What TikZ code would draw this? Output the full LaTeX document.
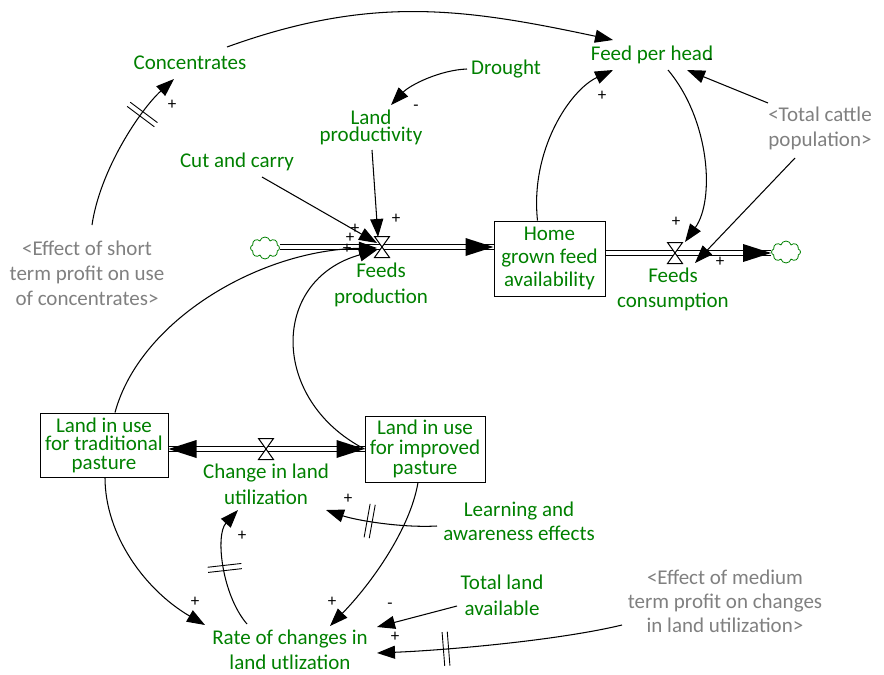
\documentclass[tikz,border=0pt]{standalone}
\usepackage{fontspec}
\setmainfont{Carlito}
\usetikzlibrary{arrows.meta,calc,decorations.markings,shapes.symbols}
\definecolor{vgreen}{RGB}{0,128,0}
\definecolor{vgray}{RGB}{128,128,128}
\begin{document}
\begin{tikzpicture}[x=1pt,y=-1pt,
  lab/.style={text=vgreen,font=\fontsize{21}{25}\selectfont,align=center,inner sep=1pt},
  glab/.style={lab,text=vgray},
  stock/.style={draw,line width=1pt,text=vgreen,align=center,inner sep=0pt},
  link/.style={line width=1.05pt,-{Triangle[length=18pt,width=13pt]}},
  pipe/.style={double,double distance=3.8pt,line width=1.1pt},
  sgn/.style={font=\fontsize{17}{17}\selectfont,inner sep=0pt},
  delay/.style={postaction={decorate},decoration={markings,mark=at position #1 with {\draw[-,line width=0.9pt] (-2.6,-17)--(-2.6,17) (2.6,-17)--(2.6,17);}}},
  cloudnode/.style={cloud,cloud puffs=8,draw=vgreen,line width=0.8pt,minimum width=29pt,minimum height=22pt,inner sep=0pt},
  valve/.pic={\draw[fill=white,line width=1pt] (-7.5,-10.5) -- (7.5,-10.5) -- (-7.5,10.5) -- (7.5,10.5) -- cycle;}
]
\useasboundingbox (0,0) rectangle (884,675);

% variables
\node[lab] (conc) at (190,63) {Concentrates};
\node[lab] (fph) at (652,55) {Feed per head};
\node[lab] (drought) at (506,69) {Drought};
\node[lab,font=\fontsize{21}{17}\selectfont] (lp) at (371,127) {Land\\productivity};
\node[lab] (cc) at (237,162) {Cut and carry};
\node[glab] (tcp) at (820,128) {<Total cattle\\population>};
\node[glab] (effS) at (87,273) {<Effect of short\\term profit on use\\of concentrates>};
\node[lab,font=\fontsize{21}{24}\selectfont] (learn) at (519,521) {Learning and\\awareness effects};
\node[lab,font=\fontsize{21}{26}\selectfont] (tland) at (502,595) {Total land\\available};
\node[glab,font=\fontsize{21}{24}\selectfont] (effM) at (725,601) {<Effect of medium\\term profit on changes\\in land utilization>};
\node[lab] (rate) at (290,650) {Rate of changes in\\land utlization};

% stocks
\node[stock,minimum width=111pt,minimum height=75pt,font=\fontsize{21}{23}\selectfont] (home) at (549.5,258.5) {Home\\grown feed\\availability};
\node[stock,minimum width=128pt,minimum height=64pt,font=\fontsize{21}{18.5}\selectfont] (trad) at (104,445) {Land in use\\for traditional\\pasture};
\node[stock,minimum width=120pt,minimum height=66pt,font=\fontsize{21}{20}\selectfont] (imp) at (425,449) {Land in use\\for improved\\pasture};

% clouds
\node[cloudnode] (cloudL) at (265,248) {};
\node[cloudnode] (cloudR) at (786,252) {};

% valves
\coordinate (fp) at (382,247);
\coordinate (fc) at (675,253);
\coordinate (clu) at (266,449);
\node[lab,font=\fontsize{21}{26}\selectfont] (fpl) at (381,284.5) {Feeds\\production};
\node[lab] (fcl) at (673,289.5) {Feeds\\consumption};
\node[lab,font=\fontsize{21}{26}\selectfont] (clul) at (266,484) {Change in land\\utilization};

% pipes
\draw[pipe] (cloudL.east |- fp) -- (fp -| home.west);
\fill (fp -| home.west) -- ++(-28,-9) -- ++(0,18) -- cycle;
\draw[pipe] (home.east |- fc) -- (cloudR.west |- fc);
\fill (cloudR.west |- fc) -- ++(-28,-9) -- ++(0,18) -- cycle;
\draw[pipe] (trad.east |- clu) -- (imp.west |- clu);
\fill (trad.east |- clu) -- ++(28,-9) -- ++(0,18) -- cycle;
\fill (imp.west |- clu) -- ++(-28,-9) -- ++(0,18) -- cycle;
\pic at (fp) {valve};
\pic at (fc) {valve};
\pic at (clu) {valve};

% links
\draw[link,delay=0.72] ($(effS)+(5,-48)$) .. controls (100,170) and (140,110) .. ($(conc)+(-16,16)$);
\draw[link] ($(conc)+(37,-16)$) .. controls (371,-5) and (463,8) .. ($(fph)+(-39,-15)$);
\draw[link] ($(drought)+(-39,0)$) .. controls (440,70) and (410,85) .. ($(lp)+(20,-22)$);
\draw[link] ($(lp)+(1,23)$) -- ($(fp)+(-4,-10)$);
\draw[link] ($(cc)+(25,15)$) -- ($(fp)+(-5,-4)$);
\draw[link] ($(trad.north)+(11,0)$) .. controls (140,320) and (260,250) .. ($(fp)+(-5,1)$);
\draw[link] (imp.west) .. controls (270,400) and (270,280) .. ($(fp)+(-5,3)$);
\draw[link] ($(home.north)+(-12,0)$) .. controls (530,150) and (570,90) .. ($(fph)+(-39,15)$);
\draw[link] ($(fph)+(16,15)$) .. controls (710,120) and (715,200) .. ($(fc)+(10,-11)$);
\draw[link] ($(tcp)+(-52,-25)$) -- ($(fph)+(35,15)$);
\draw[link] ($(tcp)+(-25,30)$) -- ($(fc)+(20,10)$);
\draw[link,delay=0.6] ($(learn)+(-82,5)$) .. controls (400,528) and (355,520) .. ($(clul)+(60,26)$);
\draw[link,delay=0.5] ($(rate)+(-43,-26)$) .. controls (222,595) and (215,535) .. ($(clul)+(-28,26)$);
\draw[link] ($(trad.south)+(1,0)$) .. controls (105,535) and (145,590) .. ($(rate)+(-85,-25)$);
\draw[link] ($(imp.south)+(-7,0)$) .. controls (410,530) and (370,585) .. ($(rate)+(40,-24)$);
\draw[link] ($(tland)+(-45,11)$) -- ($(rate)+(87,-23)$);
\draw[link,delay=0.72] ($(effM)+(-103,24)$) .. controls (560,640) and (450,650) .. ($(rate)+(87,3)$);

% polarity signs
\node[sgn] (s1) at (172,105) {+};
\node[sgn] (s2) at (416,108) {-};
\node[sgn] (s3) at (396,219) {+};
\node[sgn] (s4) at (355,229) {+};
\node[sgn] (s5) at (350,238) {+};
\node[sgn] (s6) at (347,249) {+};
\node[sgn] (s7) at (602,96) {+};
\node[sgn] (s8) at (676,222) {+};
\node[sgn] (s9) at (710,62) {-};
\node[sgn] (s10) at (720,262) {+};
\node[sgn] (s11) at (348,499) {+};
\node[sgn] (s12) at (242,536) {+};
\node[sgn] (s13) at (195,602) {+};
\node[sgn] (s14) at (332,602) {+};
\node[sgn] (s15) at (390,606) {-};
\node[sgn] (s16) at (395,637) {+};
\end{tikzpicture}
\end{document}
